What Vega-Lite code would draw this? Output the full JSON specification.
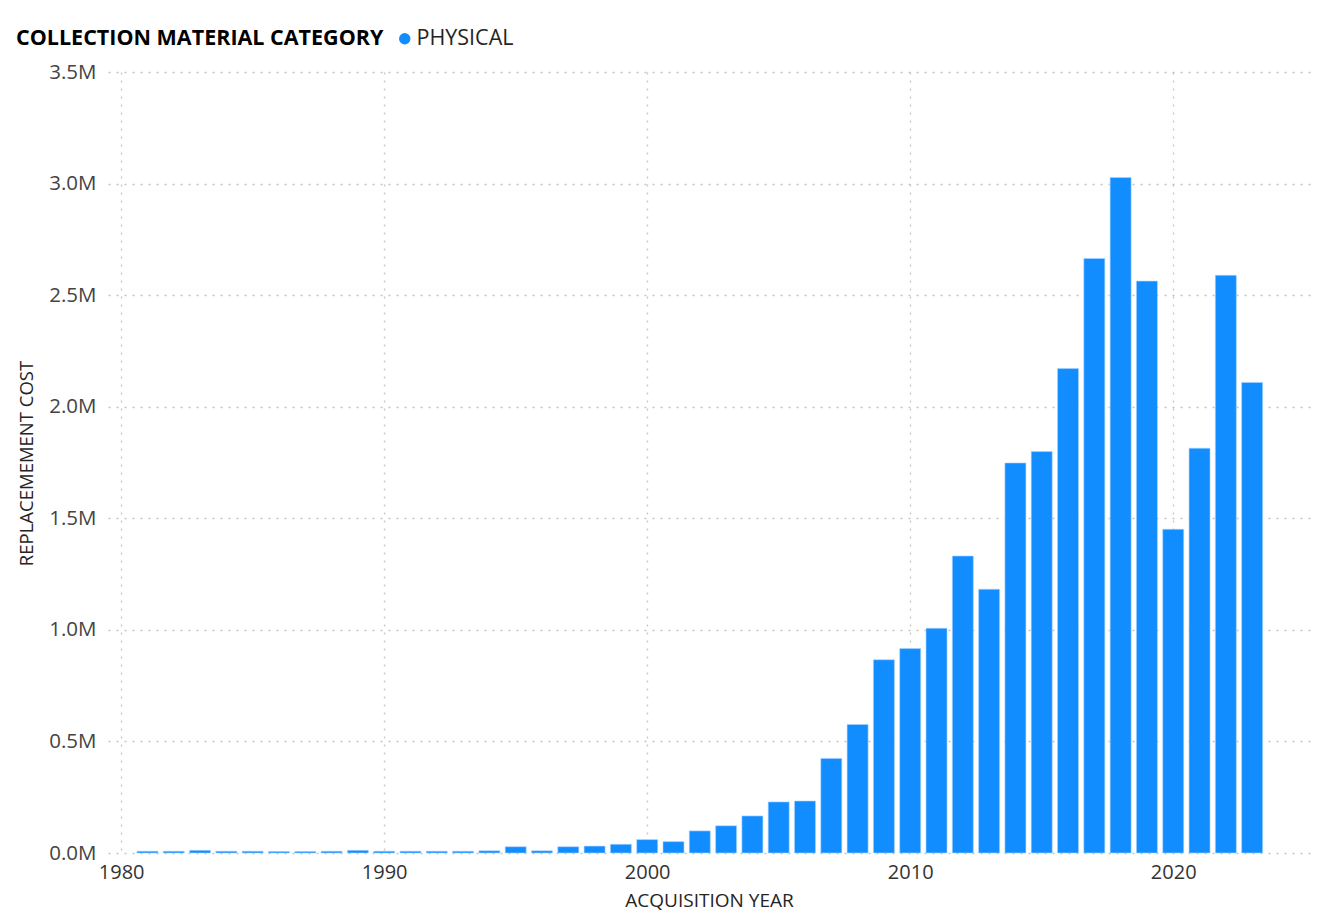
{
  "$schema": "https://vega.github.io/schema/vega-lite/v6.json",
  "autosize": {"type": "none"},
  "width": 1202,
  "height": 781,
  "padding": {"left": 108, "top": 72, "right": 24, "bottom": 60},
  "background": "white",
  "data": {
    "values": [
      {"year": 1981, "cost": 8000, "category": "PHYSICAL"},
      {"year": 1982, "cost": 8000, "category": "PHYSICAL"},
      {"year": 1983, "cost": 12000, "category": "PHYSICAL"},
      {"year": 1984, "cost": 8000, "category": "PHYSICAL"},
      {"year": 1985, "cost": 8000, "category": "PHYSICAL"},
      {"year": 1986, "cost": 7000, "category": "PHYSICAL"},
      {"year": 1987, "cost": 7000, "category": "PHYSICAL"},
      {"year": 1988, "cost": 8000, "category": "PHYSICAL"},
      {"year": 1989, "cost": 12000, "category": "PHYSICAL"},
      {"year": 1990, "cost": 8000, "category": "PHYSICAL"},
      {"year": 1991, "cost": 8000, "category": "PHYSICAL"},
      {"year": 1992, "cost": 8000, "category": "PHYSICAL"},
      {"year": 1993, "cost": 8000, "category": "PHYSICAL"},
      {"year": 1994, "cost": 10000, "category": "PHYSICAL"},
      {"year": 1995, "cost": 28000, "category": "PHYSICAL"},
      {"year": 1996, "cost": 10000, "category": "PHYSICAL"},
      {"year": 1997, "cost": 28000, "category": "PHYSICAL"},
      {"year": 1998, "cost": 31000, "category": "PHYSICAL"},
      {"year": 1999, "cost": 39000, "category": "PHYSICAL"},
      {"year": 2000, "cost": 60000, "category": "PHYSICAL"},
      {"year": 2001, "cost": 51000, "category": "PHYSICAL"},
      {"year": 2002, "cost": 99000, "category": "PHYSICAL"},
      {"year": 2003, "cost": 122000, "category": "PHYSICAL"},
      {"year": 2004, "cost": 166000, "category": "PHYSICAL"},
      {"year": 2005, "cost": 229000, "category": "PHYSICAL"},
      {"year": 2006, "cost": 233000, "category": "PHYSICAL"},
      {"year": 2007, "cost": 424000, "category": "PHYSICAL"},
      {"year": 2008, "cost": 576000, "category": "PHYSICAL"},
      {"year": 2009, "cost": 866000, "category": "PHYSICAL"},
      {"year": 2010, "cost": 916000, "category": "PHYSICAL"},
      {"year": 2011, "cost": 1007000, "category": "PHYSICAL"},
      {"year": 2012, "cost": 1331000, "category": "PHYSICAL"},
      {"year": 2013, "cost": 1182000, "category": "PHYSICAL"},
      {"year": 2014, "cost": 1748000, "category": "PHYSICAL"},
      {"year": 2015, "cost": 1799000, "category": "PHYSICAL"},
      {"year": 2016, "cost": 2171000, "category": "PHYSICAL"},
      {"year": 2017, "cost": 2664000, "category": "PHYSICAL"},
      {"year": 2018, "cost": 3027000, "category": "PHYSICAL"},
      {"year": 2019, "cost": 2563000, "category": "PHYSICAL"},
      {"year": 2020, "cost": 1451000, "category": "PHYSICAL"},
      {"year": 2021, "cost": 1814000, "category": "PHYSICAL"},
      {"year": 2022, "cost": 2589000, "category": "PHYSICAL"},
      {"year": 2023, "cost": 2109000, "category": "PHYSICAL"}
    ]
  },
  "mark": {"type": "bar", "size": 21, "stroke": "#a9d4ff", "strokeWidth": 0.6},
  "encoding": {
    "x": {
      "field": "year",
      "type": "quantitative",
      "scale": {"domain": [1979.5, 2025.2], "nice": false, "zero": false, "padding": 0},
      "axis": {
        "title": "ACQUISITION YEAR",
        "values": [1980, 1990, 2000, 2010, 2020],
        "format": "d",
        "labelFont": "Open Sans",
        "labelFontSize": 20,
        "labelColor": "#333333",
        "labelPadding": 9,
        "titleFont": "Open Sans",
        "titleFontSize": 19,
        "titleFontWeight": "normal",
        "titleColor": "#252423",
        "titleBaseline": "middle",
        "titleY": 47,
        "domain": false,
        "ticks": false,
        "grid": true,
        "gridColor": "#c4c4c4",
        "gridDash": [2, 6],
        "gridWidth": 1.3
      }
    },
    "y": {
      "field": "cost",
      "type": "quantitative",
      "scale": {"domain": [0, 3500000], "nice": false},
      "axis": {
        "title": "REPLACEMEMENT COST",
        "values": [0, 500000, 1000000, 1500000, 2000000, 2500000, 3000000, 3500000],
        "labelExpr": "format(datum.value / 1000000, '.1f') + 'M'",
        "labelFont": "Open Sans",
        "labelFontSize": 20.5,
        "labelColor": "#444444",
        "labelPadding": 12,
        "titleFont": "Open Sans",
        "titleFontSize": 18.5,
        "titleFontWeight": "normal",
        "titleColor": "#252423",
        "titleAngle": -90,
        "titleBaseline": "middle",
        "titleX": -82,
        "titleY": 391,
        "domain": false,
        "ticks": false,
        "grid": true,
        "gridColor": "#c4c4c4",
        "gridDash": [2, 6],
        "gridWidth": 1.3
      }
    },
    "color": {
      "field": "category",
      "type": "nominal",
      "scale": {"range": ["#118DFF"]},
      "legend": {
        "title": "COLLECTION MATERIAL CATEGORY",
        "orient": "none",
        "direction": "horizontal",
        "titleOrient": "left",
        "legendX": -92,
        "legendY": -44,
        "titleFont": "Open Sans",
        "titleFontSize": 21.5,
        "titleFontWeight": "bold",
        "titleColor": "#000000",
        "titleLimit": 1000,
        "titlePadding": 10,
        "titleBaseline": "middle",
        "labelFont": "Open Sans",
        "labelFontSize": 21.5,
        "labelColor": "#252423",
        "labelOffset": 1,
        "labelLimit": 500,
        "symbolType": "circle",
        "symbolSize": 130,
        "symbolStrokeWidth": 0
      }
    }
  },
  "config": {"view": {"stroke": null}}
}
